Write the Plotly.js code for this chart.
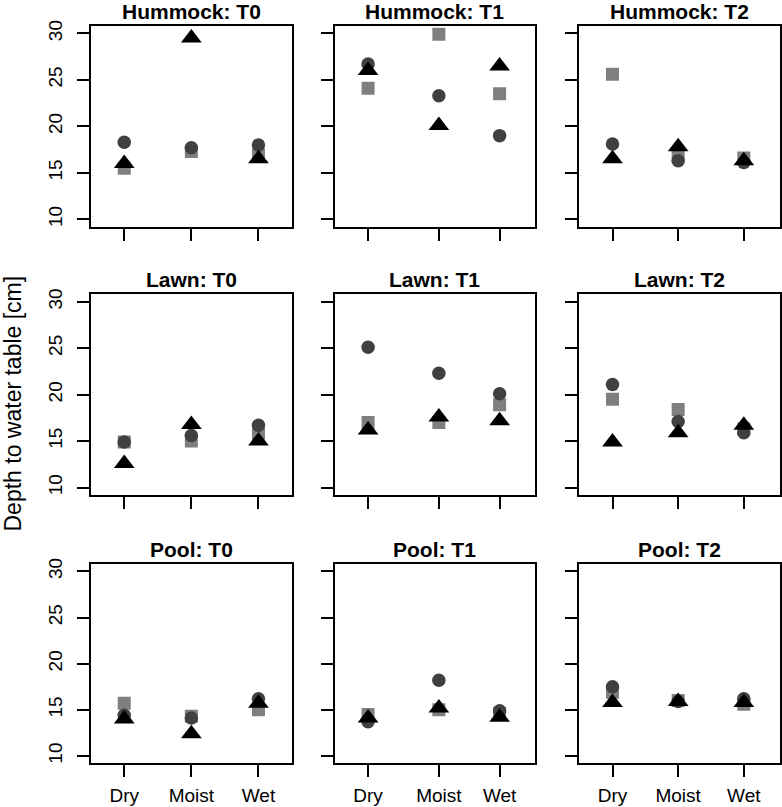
<!DOCTYPE html>
<html>
<head>
<meta charset="utf-8">
<script src="https://cdn.plot.ly/plotly-3.0.1.min.js"></script>
<style>html,body{margin:0;padding:0;background:#fff;}#chart{width:782px;height:807px;}</style>
</head>
<body>
<div id="chart"></div>
<script>
// ---- data ----
const categories = ['Dry', 'Moist', 'Wet'];
const habitats = ['Hummock', 'Lawn', 'Pool'];
const times = ['T0', 'T1', 'T2'];
// x location of each category within the panels of each time column
const categoryX = [[1, 2, 3], [1, 2.06, 2.97], [1, 1.98, 2.96]];
const yTickVals = [10, 15, 20, 25, 30];
const yTitle = 'Depth to water table [cm]';

// circle series (dark grey): per habitat, per time [Dry, Moist, Wet]
const circleHummock = [[18.3, 17.7, 18.0], [26.7, 23.3, 19.0], [18.1, 16.3, 16.1]];
const circleLawn    = [[14.9, 15.6, 16.7], [25.1, 22.3, 20.1], [21.1, 17.1, 15.9]];
const circlePool    = [[14.4, 14.1, 16.2], [13.7, 18.2, 14.9], [17.5, 15.9, 16.2]];
// square series (grey)
const squareHummock = [[15.5, 17.3, 16.9], [24.1, 29.9, 23.5], [25.6, 16.9, 16.6]];
const squareLawn    = [[14.9, 15.0, 15.7], [17.0, 17.0, 18.9], [19.5, 18.4, 16.3]];
const squarePool    = [[15.7, 14.3, 15.0], [14.5, 15.0, 14.6], [16.9, 16.0, 15.6]];
// triangle series (black)
const triangleHummock = [[16.0, 29.5, 16.5], [26.0, 20.1, 26.5], [16.5, 17.8, 16.3]];
const triangleLawn    = [[12.6, 16.8, 15.0], [16.2, 17.6, 17.2], [14.9, 15.9, 16.7]];
const trianglePool    = [[14.0, 12.4, 15.7], [14.1, 15.2, 14.2], [15.8, 15.9, 15.8]];

const circles = [circleHummock, circleLawn, circlePool];
const squares = [squareHummock, squareLawn, squarePool];
const triangles = [triangleHummock, triangleLawn, trianglePool];

// ---- layout geometry (pixels) ----
const W = 782, H = 807;
const colPx = [[90.7, 292], [334.7, 535], [579, 780]];
const rowPx = [[26, 226.7], [294.3, 495], [564, 763.3]];
const FONT = 'Liberation Sans, Arial, Helvetica, sans-serif';

const traces = [];
const layout = {
  width: W, height: H, autosize: false,
  margin: {l: 0, r: 0, t: 0, b: 0, pad: 0},
  paper_bgcolor: '#fff', plot_bgcolor: '#fff',
  showlegend: false,
  font: {family: FONT, color: '#000'},
  annotations: []
};

const seriesDefs = [
  {data: squares, symbol: 'square', size: 13, color: '#7f7f7f', name: 'square'},
  {data: circles, symbol: 'circle', size: 13.5, color: '#404040', name: 'circle'},
  {data: triangles, symbol: 'triangle-up', size: 18, color: '#000000', name: 'triangle'}
];

for (let r = 0; r < 3; r++) {
  for (let c = 0; c < 3; c++) {
    const idx = r * 3 + c + 1;
    const xa = idx === 1 ? 'x' : 'x' + idx;
    const ya = idx === 1 ? 'y' : 'y' + idx;
    const xk = idx === 1 ? 'xaxis' : 'xaxis' + idx;
    const yk = idx === 1 ? 'yaxis' : 'yaxis' + idx;
    seriesDefs.forEach(s => {
      traces.push({
        type: 'scatter', mode: 'markers',
        x: categoryX[c], y: s.data[r][c],
        xaxis: xa, yaxis: ya, name: s.name, hoverinfo: 'skip',
        marker: {symbol: s.symbol, size: s.size, color: s.color, line: {width: 0}}
      });
    });
    layout[xk] = {
      domain: [colPx[c][0] / W, colPx[c][1] / W],
      anchor: ya, range: [0.5, 3.5], fixedrange: true,
      showgrid: false, zeroline: false,
      showline: true, mirror: true, linecolor: '#000', linewidth: 2,
      ticks: 'outside', ticklen: 12, tickwidth: 2, tickcolor: '#000',
      tickmode: 'array', tickvals: categoryX[c], ticktext: categories,
      showticklabels: r === 2, ticklabelstandoff: 2,
      tickfont: {family: FONT, size: 19, color: '#000'}
    };
    layout[yk] = {
      domain: [1 - rowPx[r][1] / H, 1 - rowPx[r][0] / H],
      anchor: xa, range: [9.2, 30.8], fixedrange: true,
      showgrid: false, zeroline: false,
      showline: true, mirror: true, linecolor: '#000', linewidth: 2,
      ticks: 'outside', ticklen: 12, tickwidth: 2, tickcolor: '#000',
      tickmode: 'array', tickvals: yTickVals, ticktext: yTickVals.map(String),
      tickangle: -90, showticklabels: c === 0, ticklabelstandoff: 7,
      tickfont: {family: FONT, size: 19, color: '#000'}
    };
    layout.annotations.push({
      xref: 'paper', yref: 'paper',
      x: (colPx[c][0] + colPx[c][1]) / 2 / W,
      y: 1 - rowPx[r][0] / H,
      xanchor: 'center', yanchor: 'bottom', yshift: 1, showarrow: false,
      text: '<b>' + habitats[r] + ': ' + times[c] + '</b>',
      font: {family: FONT, size: 21, color: '#000'}
    });
  }
}

layout.annotations.push({
  xref: 'paper', yref: 'paper', x: 12 / W, y: 0.5,
  xanchor: 'center', yanchor: 'middle', showarrow: false,
  textangle: -90, text: yTitle,
  font: {family: FONT, size: 23, color: '#000'}
});

Plotly.newPlot('chart', traces, layout, {displayModeBar: false, staticPlot: true});
</script>
</body>
</html>
